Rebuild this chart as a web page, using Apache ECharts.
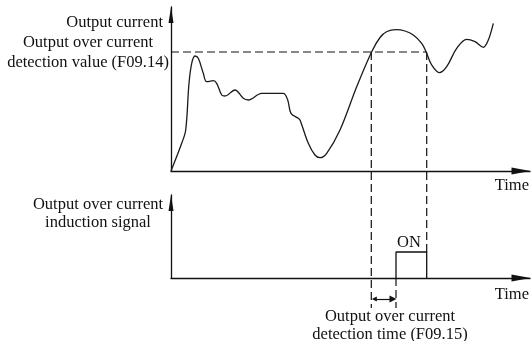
<!DOCTYPE html>
<html><head><meta charset="utf-8">
<script src="https://cdn.jsdelivr.net/npm/echarts@6/dist/echarts.min.js"></script>
<style>html,body{margin:0;padding:0;background:#fff}#c{width:531px;height:341px}</style>
</head><body><div id="c"></div>
<script>
// ---- data ----
const timeValues = [0, 10.7, 14.7, 18, 20.7, 24, 27.3, 32.3, 35.7, 42.3, 45.7, 50.7, 54, 64, 72.3, 77.3, 90.7, 112.3, 116.7, 120, 127.3, 129, 137.3, 144, 149, 155.7, 169, 185.7, 200.7, 209, 216, 225, 234, 242.3, 250.7, 255, 260.7, 268.3, 275.7, 285.7, 295.7, 304, 312.3, 317.3, 322.3];
const currentValues = [0, 27.7, 41, 87.7, 107.7, 115, 112.7, 97.7, 89.3, 90.3, 87.7, 76, 75, 81, 72.7, 71, 77.7, 77.7, 71, 57.7, 52.7, 51, 27.7, 16, 13.3, 17.7, 41, 84.3, 119.3, 133.5, 139.5, 141.3, 140, 136, 127.7, 119.3, 106, 98.3, 104.3, 122.7, 131.7, 129.3, 123.7, 131, 147.7];
const threshold = 119;     // Output over current detection value (F09.14)
const tOn = 200.3;         // current exceeds threshold
const tOff = 255.7;        // current drops below threshold
const tSignal = 225;       // signal ON after detection time (F09.15)
const signalLevel = 26;
const belowAxis = -30;     // extent of dashed guides below lower axis
const arrowLevel = -21;

const xMax = 359, topMax = 164, lowMax = 83;
const L = {left: 171, topTop: 7, lowTop: 195};
const axisGap = (L.lowTop + lowMax) - (L.topTop + topMax); // px between the two time axes

const ink = '#111';
const font = '16.5px "Liberation Serif", "Times New Roman", serif';
const dash = [8, 4];

const chart = echarts.init(document.getElementById('c'), null, {renderer: 'canvas'});

function xAx(gi) {
  return {type: 'value', gridIndex: gi, min: 0, max: xMax,
    axisLine: {show: true, lineStyle: {color: ink, width: 1.3}, symbol: ['none', 'triangle'], symbolSize: [7, 19], symbolOffset: [0, -9]},
    axisTick: {show: false}, axisLabel: {show: false}, splitLine: {show: false}};
}
function yAx(gi, max) {
  return {type: 'value', gridIndex: gi, min: 0, max: max,
    axisLine: {show: true, lineStyle: {color: ink, width: 1.3}, symbol: ['none', 'triangle'], symbolSize: [5, 16], symbolOffset: [0, -8]},
    axisTick: {show: false}, axisLabel: {show: false}, splitLine: {show: false}};
}
const dashed = {color: ink, width: 1.2, type: dash};
function seg(gi, data, style) {
  return {type: 'line', xAxisIndex: gi, yAxisIndex: gi, data: data, symbol: 'none', clip: false,
    lineStyle: style, itemStyle: {color: ink}, silent: true, animation: false, z: 3};
}

function txt(x, y, text, align, lh) {
  return {type: 'text', x: x, y: y, silent: true,
    style: {text: text, font: font, fill: ink, align: align, verticalAlign: 'middle', lineHeight: lh || 20}};
}

chart.setOption({
  animation: false,
  grid: [
    {left: L.left, top: L.topTop, width: xMax, height: topMax},
    {left: L.left, top: L.lowTop, width: xMax, height: lowMax}
  ],
  xAxis: [xAx(0), xAx(1)],
  yAxis: [yAx(0, topMax), yAx(1, lowMax)],
  series: [
    {type: 'line', xAxisIndex: 0, yAxisIndex: 0, smooth: 0.35, symbol: 'none', clip: false,
      data: timeValues.map((t, i) => [t, currentValues[i]]),
      lineStyle: {color: '#1a1a1a', width: 1.3}, z: 4},
    seg(0, [[0, threshold], [tOff, threshold]], dashed),
    seg(0, [[tOn, threshold], [tOn, belowAxis - axisGap]], dashed),
    seg(0, [[tOff, threshold], [tOff, signalLevel - axisGap]], dashed),
    seg(1, [[tSignal, 0], [tSignal, belowAxis]], dashed),
    seg(1, [[tSignal, 0], [tSignal, signalLevel], [tOff, signalLevel], [tOff, 0]], {color: ink, width: 1.3}),
    {type: 'lines', coordinateSystem: 'cartesian2d', xAxisIndex: 1, yAxisIndex: 1, clip: false,
      symbol: ['triangle', 'triangle'], symbolSize: [5, 7],
      lineStyle: {color: ink, width: 1.2, opacity: 1, curveness: 0},
      data: [{coords: [[tOn + 3, arrowLevel], [tSignal - 3, arrowLevel]]}], z: 5}
  ],
  graphic: [
    txt(163, 23, 'Output current', 'right'),
    txt(88, 53, 'Output over current\ndetection value (F09.14)', 'center', 20),
    txt(529, 186, 'Time', 'right'),
    txt(98, 214, 'Output over current\ninduction signal', 'center', 18),
    txt(529, 295, 'Time', 'right'),
    txt(409, 243, 'ON', 'center'),
    txt(390, 326, 'Output over current\ndetection time (F09.15)', 'center', 18)
  ]
});
</script></body></html>
